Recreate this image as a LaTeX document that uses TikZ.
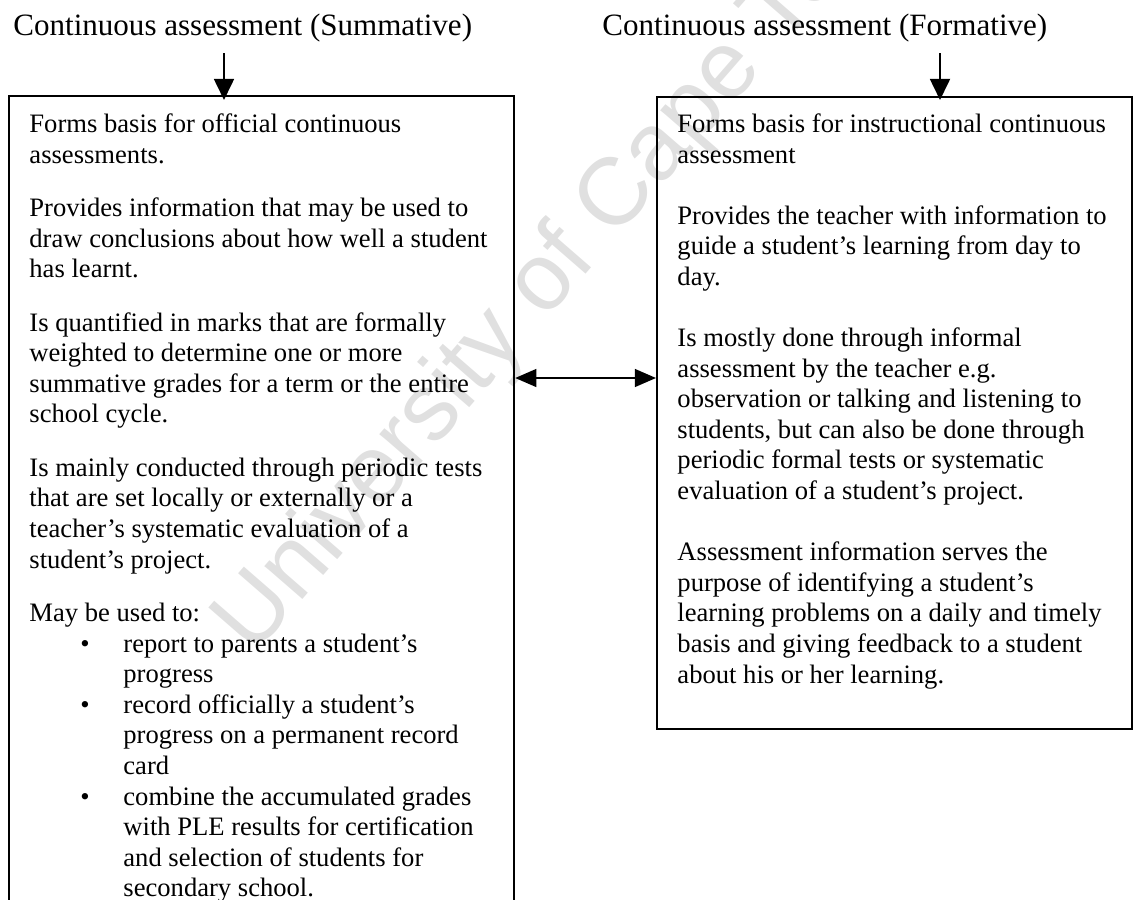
\documentclass[tikz,border=0pt]{standalone}
\usepackage{fontspec}
\setmainfont{Liberation Serif}
\newfontfamily\wmfont{Liberation Sans}
\usetikzlibrary{arrows.meta,calc}

% bullet lines inside the summative box
\newcommand\bulitem{\makebox[42.4pt][l]{\hspace{23pt}\textbullet}}
\newcommand\bulcont{\hspace*{42.4pt}}

\begin{document}
\begin{tikzpicture}[x=0.4511pt,y=-0.4511pt,
  boxframe/.style={draw, line width=1pt, inner sep=0pt, anchor=north west},
  headtext/.style={anchor=base west, inner sep=0pt, font=\fontsize{14pt}{16pt}\selectfont},
  bodytext/.style={anchor=north west, inner sep=0pt, align=left, font=\fontsize{12pt}{13.8pt}\selectfont},
  feed/.style={line width=0.9pt, -{Triangle[length=9.5pt,width=9pt]}},
  link/.style={line width=0.9pt, {Triangle[length=9.5pt,width=8pt]}-{Triangle[length=9.5pt,width=8pt]}},
  stamp/.style={font=\wmfont\fontsize{43pt}{43pt}\selectfont, text=black!12, inner sep=0pt}
]
\clip (0,0) rectangle (1133,899);

% faint diagonal stamp in the background
\node[stamp, rotate=49] (wm) at (572,252) {University of Cape Town};

% column headings
\node[headtext] (sumtitle) at (13,35) {Continuous assessment (Summative)};
\node[headtext] (frmtitle) at (602,35) {Continuous assessment (Formative)};

% the two frames (the summative one runs past the lower edge)
\node[boxframe, minimum width=227.8pt, minimum height=390pt] (sumbox) at (8,95) {};
\node[boxframe, minimum width=214.3pt, minimum height=285pt] (frmbox) at (656,96) {};

% summative text
\node[bodytext] (sumtext) at (29,110.6) {\strut Forms basis for official continuous\\
assessments.\\[10.3pt]
Provides information that may be used to\\
draw conclusions about how well a student\\
has learnt.\\[10.3pt]
Is quantified in marks that are formally\\
weighted to determine one or more\\
summative grades for a term or the entire\\
school cycle.\\[10.3pt]
Is mainly conducted through periodic tests\\
that are set locally or externally or a\\
teacher’s systematic evaluation of a\\
student’s project.\\[10.3pt]
May be used to:\\
\bulitem report to parents a student’s\\
\bulcont progress\\
\bulitem record officially a student’s\\
\bulcont progress on a permanent record\\
\bulcont card\\
\bulitem combine the accumulated grades\\
\bulcont with PLE results for certification\\
\bulcont and selection of students for\\
\bulcont secondary school.};

% formative text
\node[bodytext] (frmtext) at (677,110.6) {\strut Forms basis for instructional continuous\\
assessment\\[13.8pt]
Provides the teacher with information to\\
guide a student’s learning from day to\\
day.\\[13.8pt]
Is mostly done through informal\\
assessment by the teacher e.g.\\
observation or talking and listening to\\
students, but can also be done through\\
periodic formal tests or systematic\\
evaluation of a student’s project.\\[13.8pt]
Assessment information serves the\\
purpose of identifying a student’s\\
learning problems on a daily and timely\\
basis and giving feedback to a student\\
about his or her learning.};

% arrows from the headings into the frames
\coordinate (sumtip) at (224,100);
\coordinate (frmtip) at (940,100);
\draw[feed, shorten <=5pt] (sumtitle.south -| sumtip) -- (sumtip);
\draw[feed, shorten <=5pt] (frmtitle.south -| frmtip) -- (frmtip);

% two-way link between the frames
\coordinate (linky) at (0,378);
\draw[link] (sumbox.east |- linky) -- (frmbox.west |- linky);
\end{tikzpicture}
\end{document}
